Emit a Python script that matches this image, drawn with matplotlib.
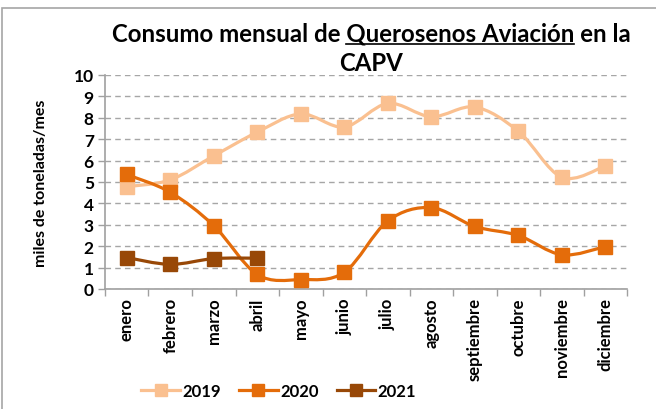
import matplotlib
matplotlib.use("Agg")
import matplotlib.pyplot as plt
import numpy as np
from matplotlib.path import Path
from matplotlib.patches import PathPatch, Rectangle
from matplotlib.lines import Line2D

meses = ["enero", "febrero", "marzo", "abril", "mayo", "junio", "julio",
         "agosto", "septiembre", "octubre", "noviembre", "diciembre"]
v2019 = [4.78, 5.1, 6.22, 7.33, 8.18, 7.57, 8.67, 8.05, 8.5, 7.37, 5.22, 5.75]
v2020 = [5.35, 4.52, 2.96, 0.68, 0.44, 0.78, 3.18, 3.8, 2.92, 2.5, 1.6, 1.98]
v2021 = [1.47, 1.15, 1.42, 1.44]
years = ["2019", "2020", "2021"]
colores = ["#FAC090", "#E46C0A", "#984807"]

plt.rcParams["font.family"] = ["Lato", "DejaVu Sans"]
plt.rcParams["font.weight"] = "bold"


def curva(ax, y, color):
    # trazo suavizado tipo Excel (Bezier por Catmull-Rom)
    x = np.arange(len(y), dtype=float)
    y = np.asarray(y, dtype=float)
    pts = np.column_stack([x, y])
    verts = [pts[0]]
    codes = [Path.MOVETO]
    n = len(pts)
    for i in range(n - 1):
        p0 = pts[i - 1] if i > 0 else pts[i]
        p1 = pts[i]
        p2 = pts[i + 1]
        p3 = pts[i + 2] if i + 2 < n else pts[i + 1]
        c1 = p1 + (p2 - p0) / 6.0
        c2 = p2 - (p3 - p1) / 6.0
        verts += [c1, c2, p2]
        codes += [Path.CURVE4] * 3
    ax.add_patch(PathPatch(Path(verts, codes), facecolor="none", edgecolor=color,
                           lw=2.3, capstyle="round", joinstyle="round", zorder=3))
    ax.plot(x, y, linestyle="none", marker="s", markersize=9.5, color=color, zorder=4)


fig = plt.figure(figsize=(6.56, 4.10), dpi=100)
ax = fig.add_axes([0.160, 0.2927, 0.796, 0.522])

for vals, c in zip([v2019, v2020, v2021], colores):
    curva(ax, vals, c)

ax.set_xlim(-0.5, 11.5)
ax.set_ylim(0, 10)
ax.set_yticks(range(0, 11))
ax.set_xticks(range(12))
ax.set_xticklabels(meses, rotation=90, fontsize=12, fontweight="bold")
ax.set_xticks(np.arange(-0.5, 12, 1), minor=True)
ax.tick_params(axis="x", which="major", length=0, pad=6)
ax.tick_params(axis="x", which="minor", length=5, color="#A0A0A0", width=1)
ax.tick_params(axis="y", length=5, color="#A0A0A0", width=1, labelsize=12.5, pad=3)
for lab in ax.get_yticklabels():
    lab.set_fontweight("bold")
ax.yaxis.grid(True, linestyle=(0, (4, 3)), color="#A6A6A6", lw=1)
ax.set_axisbelow(True)
for s in ["top", "right"]:
    ax.spines[s].set_visible(False)
for s in ["left", "bottom"]:
    ax.spines[s].set_color("#A0A0A0")
    ax.spines[s].set_linewidth(1.2)
ax.set_ylabel("miles de toneladas/mes", fontsize=11.5, fontweight="bold")
ax.yaxis.set_label_coords(-0.11, 0.5)

handles = [Line2D([], [], color=c, lw=2.3, marker="s", markersize=8.5) for c in colores]
fig.legend(handles, years, loc="center", bbox_to_anchor=(0.425, 0.045), ncol=3,
           frameon=False, handlelength=2.3, handletextpad=0.15,
           columnspacing=1.1, prop={"weight": "bold", "size": 12})

# titulo con subrayado
FS = 17.3
linea1 = "Consumo mensual de Querosenos Aviación en la"
cx = 0.566
t1 = fig.text(cx, 0.917, linea1, ha="center", va="center", fontsize=FS, fontweight="bold")
fig.text(cx, 0.845, "CAPV", ha="center", va="center", fontsize=FS, fontweight="bold")
fig.canvas.draw()
r = fig.canvas.get_renderer()
bb = t1.get_window_extent(r)


def ancho(s):
    t = fig.text(0, 0, s, fontsize=FS, fontweight="bold")
    w = t.get_window_extent(r).width
    t.remove()
    return w


x0 = bb.x0 + ancho("Consumo mensual de Q") - ancho("Q")
x1 = bb.x0 + ancho("Consumo mensual de Querosenos Aviación")
W, H = fig.bbox.width, fig.bbox.height
yu = (bb.y0 + 1) / H
fig.add_artist(Line2D([x0 / W, x1 / W], [yu, yu], color="black", lw=1.2))

# marco del grafico
fig.add_artist(Rectangle((0.003, -0.1), 1.2, 1.078, transform=fig.transFigure,
                         fill=False, edgecolor="#A6A6A6", lw=1.2))

fig.savefig("out.png", dpi=100)
